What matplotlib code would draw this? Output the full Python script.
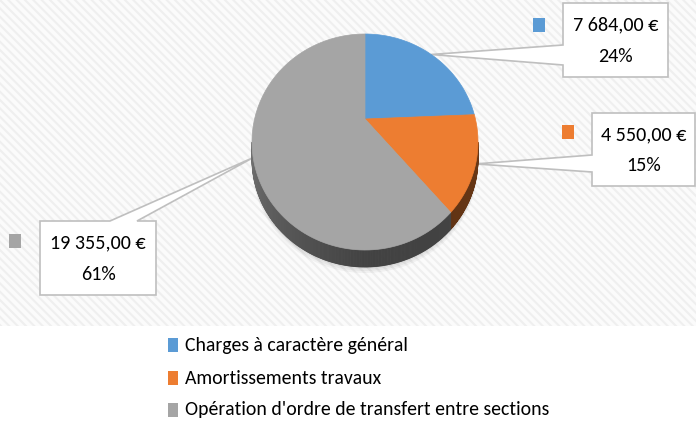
import numpy as np
import matplotlib
matplotlib.use("Agg")
import matplotlib.pyplot as plt
from matplotlib.patches import Polygon, Rectangle
from matplotlib import font_manager

# data
categories = ["Charges à caractère général", "Amortissements travaux",
              "Opération d'ordre de transfert entre sections"]
values = [7684.00, 4550.00, 19355.00]
pct_labels = ["24%", "15%", "61%"]
colors = ["#5B9BD5", "#ED7D31", "#A5A5A5"]

have = {f.name for f in font_manager.fontManager.ttflist}
fam = [f for f in ["Carlito", "Liberation Sans Narrow", "Open Sans"] if f in have][0]
plt.rcParams['font.family'] = [fam, 'DejaVu Sans']
plt.rcParams['hatch.linewidth'] = 1.5

fig = plt.figure(figsize=(6.96, 4.23), dpi=100)
ax = fig.add_axes([0, 0, 1, 1])
ax.set_xlim(0, 696)
ax.set_ylim(423, 0)
ax.axis('off')

# hatched chart background
ax.add_patch(Rectangle((0, 0), 696, 326, facecolor="#fbfbfb", edgecolor="#efefef",
                       hatch="\\\\\\\\", lw=0, zorder=0))

# 3d pie (perspective disc)
cx, cy = 365, 119
a, b, k = 110.4, 103.1, -0.213
depth = 17


def proj(t):
    t = np.radians(t)
    x = np.sin(t)
    y = -np.cos(t)
    d = 1 + k * y
    return cx + a * x / d, cy + b * y / d


def fmt_eur(v):
    s = f"{v:,.2f}".replace(",", " ").replace(".", ",")
    return s + " €"


total = sum(values)
bounds = np.concatenate([[0], np.cumsum(values) / total * 360])
vis0, vis1 = 90 - np.degrees(np.arcsin(k)), 270 + np.degrees(np.arcsin(k))

# soft shadow
for g in [6, 4, 2]:
    tt = np.linspace(0, 360, 200)
    px, py = proj(tt)
    ax.add_patch(Polygon(np.c_[px, py + depth + g], closed=True,
                         facecolor="#000000", alpha=0.04, lw=0, zorder=1))

# callouts (drawn under the pie)
boxes = [(563, 3, 668, 77), (592, 113, 695, 186), (40, 221, 156, 295)]
bases = [("left", 45, 65), ("left", 155, 172), ("top", 110, 137)]
markers = [(533, 18), (562, 125), (9, 234)]
for i in range(3):
    mid = (bounds[i] + bounds[i + 1]) / 2
    apx, apy = proj(mid)
    x0, y0, x1, y1 = boxes[i]
    side, b0, b1 = bases[i]
    if side == "left":
        pts = [(x0, y0), (x1, y0), (x1, y1), (x0, y1), (x0, b1), (apx, apy), (x0, b0)]
    else:
        pts = [(x0, y0), (b0, y0), (apx, apy), (b1, y0), (x1, y0), (x1, y1), (x0, y1)]
    ax.add_patch(Polygon(pts, closed=True, facecolor="white", edgecolor="#bfbfbf",
                         lw=1.2, zorder=2, joinstyle="miter"))
    tx = (x0 + x1) / 2
    tyc = (y0 + y1) / 2
    ax.text(tx, tyc - 15, fmt_eur(values[i]), ha="center", va="center",
            fontsize=14.5, color="#000000", zorder=6)
    ax.text(tx, tyc + 16, pct_labels[i], ha="center", va="center",
            fontsize=14.5, color="#000000", zorder=6)
    mx, my = markers[i]
    ax.add_patch(Rectangle((mx, my), 12, 14, facecolor=colors[i], lw=0, zorder=6))

# pie sides
for i in range(3):
    s0 = max(bounds[i], vis0)
    s1 = min(bounds[i + 1], vis1)
    if s1 <= s0:
        continue
    tt = np.linspace(s0, s1, int((s1 - s0) * 2) + 2)
    base = np.array(matplotlib.colors.to_rgb(colors[i]))
    for j in range(len(tt) - 1):
        t0, t1 = tt[j], tt[j + 1]
        tm = (t0 + t1) / 2
        f = 0.40 + 0.28 * max(0.0, (tm - 180) / (vis1 - 180))
        if tm < 180:
            f = 0.40 + 0.05 * max(0.0, (150 - tm) / 50)
        x0_, y0_ = proj(t0)
        x1_, y1_ = proj(t1)
        quad = [(x0_, y0_), (x1_, y1_), (x1_, y1_ + depth), (x0_, y0_ + depth)]
        ax.add_patch(Polygon(quad, closed=True, facecolor=base * f, edgecolor=base * f,
                             lw=0.6, zorder=3))

# pie top
for i in range(3):
    tt = np.linspace(bounds[i], bounds[i + 1], 120)
    px, py = proj(tt)
    pts = np.c_[np.r_[cx, px], np.r_[cy, py]]
    ax.add_patch(Polygon(pts, closed=True, facecolor=colors[i], edgecolor=colors[i],
                         lw=0.5, zorder=4))

# legend
leg_y = [345, 378, 410]
for i in range(3):
    ax.add_patch(Rectangle((168, leg_y[i] - 7), 10, 14, facecolor=colors[i], lw=0, zorder=6))
    ax.text(185, leg_y[i], categories[i], ha="left", va="center", fontsize=14.2,
            color="#000000", zorder=6)

fig.savefig("out.png", dpi=100)
